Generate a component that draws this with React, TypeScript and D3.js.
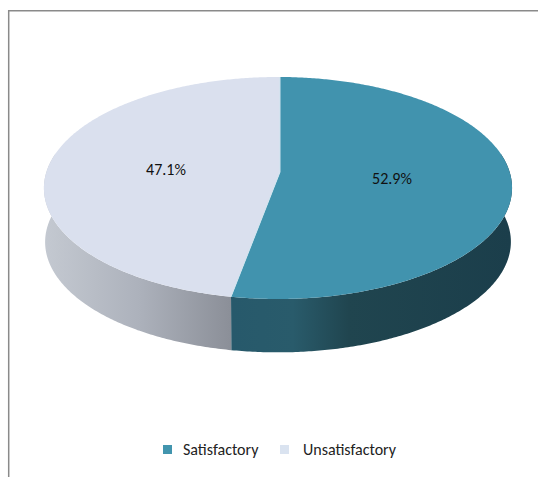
import React from "react";
import * as d3 from "d3";

const categories = ["Satisfactory", "Unsatisfactory"];
const shares = [52.9, 47.1];
const topColors = ["#4193ae", "#dae0ee"];
const legendColors = ["#4295ae", "#dae3f0"];
const wallStops = [
  [
    { at: 0, color: "#27596b" },
    { at: 0.22, color: "#295b6b" },
    { at: 0.42, color: "#20454f" },
    { at: 1, color: "#1b3e4b" },
  ],
  [
    { at: 0, color: "#c4c9d1" },
    { at: 0.5, color: "#adb2bc" },
    { at: 1, color: "#8b8f98" },
  ],
];

const WIDTH = 538;
const HEIGHT = 477;

// Tilted disc: a unit circle seen through a perspective divide.
const apex = { x: 280, y: 172 };
const disc = { rx: 231.6, ry: 108.7, tiltY: 0.144, tiltX: -0.0085 };
const depth = { dy: 54, scale: 0.995 };

function project(angle: number, lower = false) {
  const u = Math.sin(angle);
  const v = -Math.cos(angle);
  const w = 1 - disc.tiltY * v - disc.tiltX * u;
  const s = lower ? depth.scale : 1;
  return [
    apex.x + (s * disc.rx * u) / w,
    apex.y + (lower ? depth.dy : 0) + (s * disc.ry * v) / w,
  ] as [number, number];
}

function sampleAngles(a0: number, a1: number) {
  const n = Math.max(2, Math.ceil((a1 - a0) / 0.01));
  return d3.range(n + 1).map((i) => a0 + ((a1 - a0) * i) / n);
}

const toPath = d3.line();

export default function App() {
  const slices = d3.pie<number>().sort(null)(shares);
  const frontFrom = (80 * Math.PI) / 180;
  const frontTo = (280 * Math.PI) / 180;
  const legendSwatchX = [163, 280];
  const legendTextX = [183, 303];
  const labelPos = [
    [392, 178],
    [166, 169],
  ];
  const textFont = "Carlito, Lato, sans-serif";

  return (
    <svg
      width={WIDTH}
      height={HEIGHT}
      style={{ position: "absolute", left: 0, top: 0, display: "block", background: "#fff" }}
    >
      <defs>
        {slices.map((s, i) => {
          const a0 = Math.max(s.startAngle, frontFrom);
          const a1 = Math.min(s.endAngle, frontTo);
          const xs = sampleAngles(a0, a1).map((a) => project(a)[0]);
          const [x0, x1] = d3.extent(xs) as [number, number];
          return (
            <linearGradient
              key={i}
              id={`wall-${i}`}
              gradientUnits="userSpaceOnUse"
              x1={x0}
              x2={x1}
              y1={0}
              y2={0}
            >
              {wallStops[i].map((st) => (
                <stop key={st.at} offset={st.at} stopColor={st.color} />
              ))}
            </linearGradient>
          );
        })}
      </defs>

      {/* chart frame, open on the right and bottom */}
      <path
        d={`M8.7,${HEIGHT}V10.7H${WIDTH}`}
        fill="none"
        stroke="#8a8a8a"
        strokeWidth={1.5}
      />

      {/* side wall of the disc */}
      {slices.map((s, i) => {
        const a0 = Math.max(s.startAngle, frontFrom);
        const a1 = Math.min(s.endAngle, frontTo);
        const angles = sampleAngles(a0, a1);
        const pts = [
          ...angles.map((a) => project(a)),
          ...angles.slice().reverse().map((a) => project(a, true)),
        ];
        return <path key={i} d={`${toPath(pts)}Z`} fill={`url(#wall-${i})`} />;
      })}

      {/* top face */}
      {slices.map((s, i) => {
        const pts = [
          [apex.x, apex.y] as [number, number],
          ...sampleAngles(s.startAngle, s.endAngle).map((a) => project(a)),
        ];
        return <path key={i} d={`${toPath(pts)}Z`} fill={topColors[i]} />;
      })}

      {/* pale seam between the two wedges */}
      <path
        d={
          toPath([
            project(slices[0].startAngle),
            [apex.x, apex.y],
            project(slices[0].endAngle),
          ]) ?? ""
        }
        fill="none"
        stroke="#cfe4ee"
        strokeWidth={1}
      />

      {shares.map((v, i) => (
        <text
          key={i}
          x={labelPos[i][0]}
          y={labelPos[i][1]}
          dy="0.35em"
          textAnchor="middle"
          fontFamily={textFont}
          fontSize={16}
          fill="#111"
        >
          {`${v.toFixed(1)}%`}
        </text>
      ))}

      {categories.map((c, i) => (
        <g key={c}>
          <rect x={legendSwatchX[i]} y={445} width={9} height={9} fill={legendColors[i]} />
          <text
            x={legendTextX[i]}
            y={449.5}
            dy="0.35em"
            fontFamily={textFont}
            fontSize={16}
            fill="#222"
          >
            {c}
          </text>
        </g>
      ))}
    </svg>
  );
}
